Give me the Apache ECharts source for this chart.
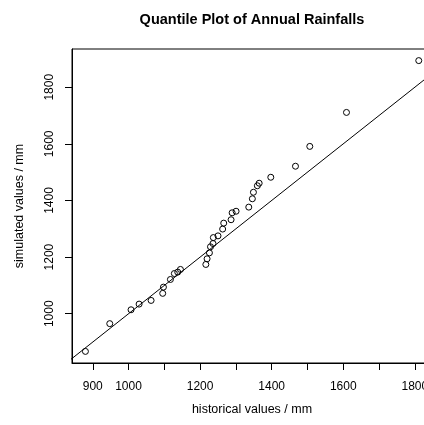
<!DOCTYPE html>
<html>
<head>
<meta charset="utf-8">
<script src="https://cdn.jsdelivr.net/npm/echarts@6/dist/echarts.min.js"></script>
<style>
  html, body { margin: 0; padding: 0; background: #fff; }
  #chart { width: 424px; height: 425px; }
</style>
</head>
<body>
<div id="chart"></div>
<script>
// sorted quantiles (mm)
var historical = [879.5, 947.5, 1007, 1029.5, 1063, 1095.5, 1097.5, 1117, 1128, 1137.5, 1145,
  1216, 1219.5, 1226, 1229, 1236, 1237, 1250, 1263, 1266, 1286.5, 1289.5, 1300.5, 1336,
  1346, 1349, 1360, 1365, 1397.5, 1466.5, 1506.5, 1609, 1811];
var simulated = [867, 965, 1014, 1034, 1047, 1072, 1094, 1121, 1142, 1147, 1156.5,
  1174, 1194, 1215, 1236.5, 1248, 1269, 1275, 1299, 1320, 1332, 1356.5, 1362, 1376.5,
  1406, 1429, 1452, 1461, 1482, 1521, 1591, 1711, 1894];
var xTicks = [900, 1000, 1100, 1200, 1300, 1400, 1500, 1600, 1700, 1800];
var xLabels = [900, 1000, 1200, 1400, 1600, 1800];
var yTicks = [1000, 1200, 1400, 1600, 1800];
// y = x reference line
var refLine = [[800, 800], [1900, 1900]];

var points = historical.map(function (h, i) { return [h, simulated[i]]; });

var font = 'Liberation Sans';
var plain = function (v) { return String(v); };
var chart = echarts.init(document.getElementById('chart'));
chart.setOption({
  animation: false,
  textStyle: { fontFamily: font, fontSize: 12, color: '#000' },
  title: {
    text: 'Quantile Plot of Annual Rainfalls',
    left: 247,
    top: 7,
    textAlign: 'center',
    textStyle: { fontFamily: font, fontSize: 14.5, fontWeight: 'bold', color: '#000' }
  },
  // axis titles, placed like R's mtext
  graphic: [
    {
      type: 'text', x: 252, y: 410,
      style: { text: 'historical values / mm', fontFamily: font, fontSize: 12.5, fill: '#000',
        textAlign: 'center', textVerticalAlign: 'middle' }
    },
    {
      type: 'text', x: 20, y: 206, rotation: Math.PI / 2,
      style: { text: 'simulated values / mm', fontFamily: font, fontSize: 12.5, fill: '#000',
        textAlign: 'center', textVerticalAlign: 'middle' }
    }
  ],
  grid: {
    left: 72, top: 49, width: 360, height: 314,
    outerBoundsMode: 'none',
    containLabel: false,
    show: true, borderColor: '#000', borderWidth: 1, backgroundColor: 'transparent'
  },
  xAxis: {
    type: 'value',
    min: 842, max: 1848,
    splitLine: { show: false },
    axisLine: { show: true, lineStyle: { color: '#000' } },
    axisTick: { show: true, inside: false, length: 7, customValues: xTicks, lineStyle: { color: '#000' } },
    axisLabel: { customValues: xLabels, formatter: plain, margin: 18, fontFamily: font, fontSize: 12, color: '#000' }
  },
  yAxis: {
    type: 'value',
    min: 826, max: 1935,
    splitLine: { show: false },
    axisLine: { show: true, lineStyle: { color: '#000' } },
    axisTick: { show: true, inside: false, length: 7, customValues: yTicks, lineStyle: { color: '#000' } },
    axisLabel: { customValues: yTicks, formatter: plain, rotate: 90, margin: 16, fontFamily: font, fontSize: 12, color: '#000' }
  },
  series: [
    {
      type: 'line',
      data: refLine,
      showSymbol: false,
      silent: true,
      clip: true,
      lineStyle: { color: '#000', width: 1 }
    },
    {
      type: 'scatter',
      data: points,
      symbol: 'circle',
      symbolSize: 6,
      itemStyle: { color: 'rgba(0,0,0,0)', borderColor: '#000', borderWidth: 1, opacity: 1 }
    }
  ]
});
</script>
</body>
</html>
